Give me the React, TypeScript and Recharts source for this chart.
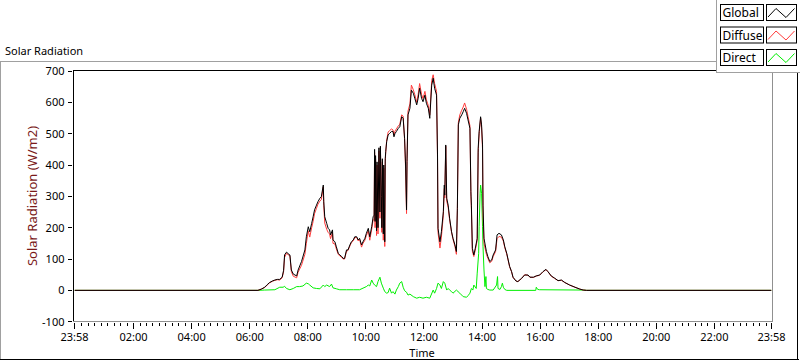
import React from 'react';
import { LineChart, Line, XAxis, YAxis } from 'recharts';

// time in minutes since midnight (axis starts at 23:58 of the previous day = -2)
const globalTimes = [
  -2, 377, 384, 391, 396, 401, 407, 412, 417, 422, 427, 430, 432, 436, 441, 443, 446, 450, 457, 460,
  467, 474, 477, 481, 484, 488, 491, 494, 498, 501, 505, 508, 512, 513, 515, 519, 522, 525, 527, 531,
  532, 536, 539, 543, 546, 550, 553, 556, 560, 563, 567, 570, 574, 577, 581, 584, 587, 591, 594, 598,
  601, 605, 608, 612, 615, 617, 618, 619, 620, 622, 623, 625, 627, 629, 630, 632, 633, 634, 636, 637,
  639, 640, 641, 643, 646, 649, 653, 656, 658, 660, 663, 667, 670, 674, 677, 680, 682, 684, 685, 687,
  691, 694, 698, 701, 705, 708, 711, 715, 718, 722, 725, 729, 732, 736, 739, 742, 746, 748, 749, 753,
  756, 760, 762, 763, 765, 767, 770, 773, 777, 780, 784, 787, 789, 791, 794, 798, 801, 804, 808, 811,
  815, 817, 818, 820, 823, 826, 830, 832, 834, 837, 839, 841, 842, 844, 849, 852, 856, 860, 863, 868,
  871, 875, 880, 884, 887, 891, 894, 897, 901, 904, 910, 914, 922, 928, 935, 939, 946, 952, 959, 966,
  972, 976, 983, 990, 997, 1004, 1011, 1021, 1032, 1042, 1049, 1056, 1438,
];

const globalValues = [
  0, 0, 4, 10, 18, 25, 30, 33, 35, 35, 42, 64, 113, 122, 115, 113, 65, 52, 46, 65,
  92, 129, 171, 203, 187, 214, 235, 257, 272, 283, 294, 299, 336, 283, 235, 214, 198, 193, 177, 193,
  161, 155, 139, 118, 113, 108, 102, 102, 129, 129, 145, 155, 161, 171, 171, 161, 166, 145, 155, 166,
  182, 198, 171, 203, 235, 240, 450, 220, 430, 190, 410, 200, 455, 250, 460, 300, 200, 420, 180, 400,
  155, 420, 443, 475, 496, 501, 507, 507, 490, 500, 507, 517, 522, 554, 549, 485, 400, 257, 411, 560,
  581, 639, 629, 613, 592, 613, 645, 613, 602, 623, 597, 581, 549, 655, 677, 645, 623, 432, 198, 155,
  187, 251, 336, 304, 464, 294, 272, 230, 187, 166, 145, 124, 262, 528, 549, 560, 570, 581, 565, 544,
  517, 315, 272, 134, 113, 134, 166, 453, 507, 554, 528, 464, 272, 166, 124, 108, 92, 97, 113, 129,
  177, 182, 177, 161, 139, 118, 97, 76, 60, 42, 30, 28, 39, 49, 49, 42, 42, 46, 49, 60,
  67, 60, 46, 39, 31, 33, 25, 17, 10, 4, 1, 0, 0,
];

const diffuseValues = [
  0, 0, 4, 9, 17, 24, 29, 32, 34, 33, 40, 60, 105, 118, 112, 110, 60, 45, 40, 58,
  80, 115, 150, 190, 170, 200, 220, 245, 262, 275, 285, 290, 330, 270, 215, 195, 185, 180, 165, 185,
  150, 148, 132, 115, 110, 106, 100, 100, 125, 127, 142, 152, 158, 168, 169, 158, 163, 138, 150, 160,
  175, 190, 160, 195, 225, 225, 440, 200, 420, 175, 400, 180, 445, 230, 455, 280, 185, 410, 160, 390,
  140, 410, 440, 480, 505, 510, 515, 512, 495, 508, 515, 525, 530, 560, 556, 480, 390, 245, 420, 572,
  595, 655, 640, 625, 600, 625, 660, 625, 612, 635, 608, 590, 560, 670, 688, 660, 635, 420, 185, 135,
  170, 240, 325, 295, 460, 285, 265, 225, 185, 163, 140, 115, 255, 535, 560, 575, 585, 598, 578, 555,
  525, 300, 260, 125, 108, 128, 160, 440, 500, 550, 520, 450, 240, 150, 115, 102, 88, 93, 108, 124,
  165, 172, 170, 157, 136, 116, 95, 75, 59, 41, 30, 28, 38, 50, 48, 42, 41, 46, 48, 59,
  66, 60, 45, 38, 31, 32, 25, 17, 10, 4, 1, 0, 0,
];

const directTimes = [
  -2, 377, 391, 412, 422, 429, 432, 436, 443, 450, 457, 463, 470, 477, 481, 484, 491, 498, 505, 512,
  515, 519, 525, 529, 532, 539, 546, 560, 574, 587, 601, 605, 608, 612, 615, 618, 622, 625, 629, 632,
  636, 639, 643, 646, 649, 653, 656, 660, 663, 667, 670, 674, 677, 680, 684, 687, 691, 698, 705, 711,
  718, 725, 732, 739, 742, 746, 749, 753, 756, 760, 763, 767, 770, 773, 777, 780, 787, 794, 801, 808,
  811, 815, 818, 821, 823, 828, 830, 833, 834, 836, 837, 839, 841, 842, 844, 846, 848, 849, 852, 856,
  863, 870, 872, 873, 877, 880, 882, 884, 887, 891, 951, 952, 955, 959, 1049, 1056, 1438,
];

const directValues = [
  0, 0, 1, 2, 10, 10, 13, 6, 2, 6, 12, 12, 14, 23, 21, 17, 8, 6, 5, 17,
  12, 17, 12, 20, 8, 5, 2, 2, 2, 2, 12, 17, 14, 33, 23, 17, 12, 28, 42, 23,
  7, -4, -9, -7, 7, -9, -4, -12, 1, 12, 23, 28, 10, -1, -6, -15, -12, -20, -25, -22,
  -25, -22, -25, 1, -9, 6, 23, 17, 6, 28, 23, 1, 6, 1, -4, -9, 1, -9, -20, -22,
  -17, -9, 6, 1, 17, 6, 55, 118, 203, 310, 336, 310, 203, 139, 65, 12, 44, 6, 3, 1,
  1, 17, 44, 6, 3, 12, 23, 10, 3, 0, 0, 10, 3, 2, 1, 0, 0,
];

const yTicks = [-100, 0, 100, 200, 300, 400, 500, 600, 700];
const majorTicks = [-2, 120, 240, 360, 480, 600, 720, 840, 960, 1080, 1200, 1320, 1438];
const majorLabels = ['23:58', '02:00', '04:00', '06:00', '08:00', '10:00', '12:00', '14:00', '16:00', '18:00', '20:00', '22:00', '23:58'];

const minorTicks: number[] = [];
for (let k = 1; k * 40 / 3 < 1438; k++) {
  if (k % 9 !== 0) minorTicks.push(k * 40 / 3);
}
const allXTicks = [...majorTicks, ...minorTicks].sort((a, b) => a - b);

const rows: any[] = [
  ...globalTimes.map((t, i) => ({ t, global: globalValues[i], diffuse: diffuseValues[i] })),
  ...directTimes.map((t, i) => ({ t, direct: directValues[i] })),
].sort((a, b) => a.t - b.t);

const FONT = '"Noto Sans", "Open Sans", sans-serif';

const XTick = (props: any) => {
  const { x, y, payload } = props;
  const v = payload.value;
  const idx = majorTicks.indexOf(v);
  const px = Math.floor(x) + 0.5;
  const base = Math.round(y);
  if (idx >= 0) {
    return (
      <g>
        <line x1={px} x2={px} y1={base + 1} y2={base + 7} stroke="#000" strokeWidth={1} />
        <text x={x} y={base + 19} textAnchor="middle" fontSize={11} fontFamily={FONT} fill="#000">
          {majorLabels[idx]}
        </text>
      </g>
    );
  }
  return (
    <g>
      <line x1={px} x2={px} y1={base + 1} y2={base + 4} stroke="#000" strokeWidth={1} />
    </g>
  );
};

const YTick = (props: any) => {
  const { x, y, payload } = props;
  const py = Math.floor(y) + 0.5;
  return (
    <g>
      <line x1={x - 6.5} x2={x - 2.5} y1={py} y2={py} stroke="#000" strokeWidth={1} />
      <text x={x - 10} y={y + 4} textAnchor="end" fontSize={11} fontFamily={FONT} fill="#000">
        {payload.value}
      </text>
    </g>
  );
};

const Swatch = ({ top, color }: { top: number; color: string }) => (
  <g>
    <rect x={766.5} y={top + 0.5} width={30} height={16} fill="#fff" stroke="#000" />
    <polyline
      points={`768,${top + 13} 776,${top + 4.5} 786,${top + 13.5} 794.5,${top + 4.5}`}
      fill="none"
      stroke={color}
      strokeWidth={1}
    />
  </g>
);

const LegendLabel = ({ top, text }: { top: number; text: string }) => (
  <g>
    <rect x={720.5} y={top + 0.5} width={43} height={16} fill="#fff" stroke="#000" />
    <text x={722.5} y={top + 13} fontSize={12} fontFamily={FONT} fill="#000">
      {text}
    </text>
  </g>
);

export default function App() {
  return (
    <div style={{ position: 'absolute', left: 0, top: 0, width: 800, height: 361, background: '#fff', overflow: 'hidden' }}>
      <div style={{ position: 'absolute', left: 0, top: 0 }}>
        <LineChart
          width={800}
          height={361}
          data={rows}
          margin={{ top: 71, right: 28.5, bottom: 0, left: 0.5 }}
        >
          <XAxis
            xAxisId={0}
            type="number"
            dataKey="t"
            domain={[-2, 1438]}
            allowDataOverflow
            ticks={allXTicks}
            interval={0}
            height={39.3}
            axisLine={false}
            tickLine={false}
            tickSize={0}
            tickMargin={0}
            tick={(p: any) => <XTick {...p} />}
          />
          <YAxis
            yAxisId={0}
            type="number"
            domain={[-100, 700]}
            allowDataOverflow
            ticks={yTicks}
            interval={0}
            width={74}
            axisLine={false}
            tickLine={false}
            tickSize={0}
            tickMargin={0}
            tick={(p: any) => <YTick {...p} />}
          />
          <Line
            type="linear"
            dataKey="direct"
            stroke="#00ee00"
            strokeWidth={1}
            dot={false}
            connectNulls
            isAnimationActive={false}
          />
          <Line
            type="linear"
            dataKey="diffuse"
            stroke="#ff3c3c"
            strokeWidth={1}
            dot={false}
            connectNulls
            isAnimationActive={false}
          />
          <Line
            type="linear"
            dataKey="global"
            stroke="#000000"
            strokeWidth={1}
            dot={false}
            connectNulls
            isAnimationActive={false}
          />
        </LineChart>
      </div>
      <svg
        width={800}
        height={361}
        style={{ position: 'absolute', left: 0, top: 0, pointerEvents: 'none' }}
      >
        {/* outer frame */}
        <line x1={0} x2={717} y1={61.5} y2={61.5} stroke="#a0a0a0" />
        <line x1={0.5} x2={0.5} y1={61} y2={360} stroke="#a0a0a0" />
        <line x1={0} x2={799} y1={359.5} y2={359.5} stroke="#000" />
        <line x1={797.5} x2={797.5} y1={72} y2={360} stroke="#000" />
        {/* plot frame */}
        <line x1={73} x2={773} y1={70.5} y2={70.5} stroke="#000" />
        <line x1={73.5} x2={73.5} y1={70} y2={322} stroke="#000" />
        <line x1={772.5} x2={772.5} y1={70} y2={322} stroke="#909090" />
        <line x1={73} x2={773} y1={321.5} y2={321.5} stroke="#909090" />
        {/* title */}
        <text x={5} y={55} fontSize={11} fontFamily={FONT} fill="#000">Solar Radiation</text>
        {/* axis titles */}
        <text
          transform="translate(37,196) rotate(-90)"
          textAnchor="middle"
          fontSize={13}
          fontFamily={FONT}
          fill="#7a1a1a"
        >
          Solar Radiation (W/m2)
        </text>
        <text x={422} y={357} textAnchor="middle" fontSize={11} fontFamily={FONT} fill="#000">Time</text>
        {/* legend */}
        <rect x={716.5} y={-1} width={85} height={73.5} fill="#fff" stroke="#a0a0a0" />
        <LegendLabel top={4} text="Global" />
        <LegendLabel top={26.5} text="Diffuse" />
        <LegendLabel top={49} text="Direct" />
        <Swatch top={4} color="#000" />
        <Swatch top={26.5} color="#ff3c3c" />
        <Swatch top={49} color="#00ee00" />
      </svg>
    </div>
  );
}
